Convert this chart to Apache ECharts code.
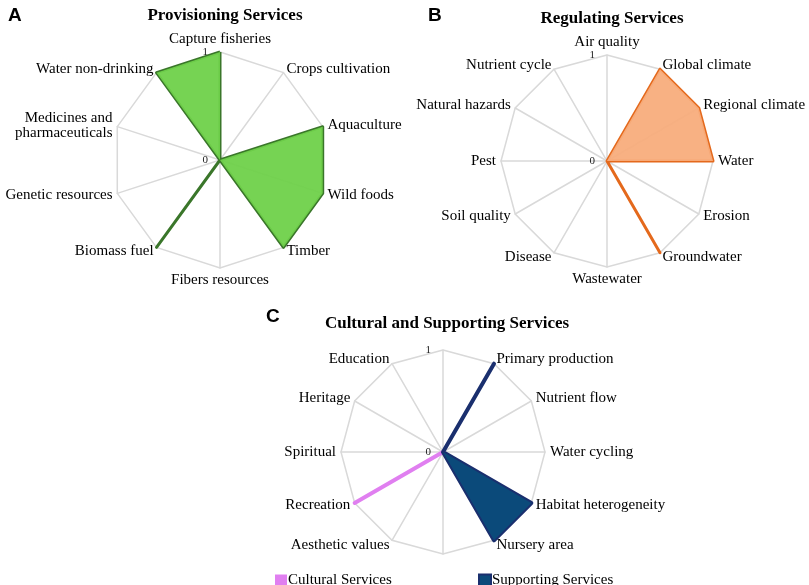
<!DOCTYPE html>
<html>
<head>
<meta charset="utf-8">
<script src="https://cdn.jsdelivr.net/npm/echarts@6/dist/echarts.min.js"></script>
<style>html,body{margin:0;padding:0;background:#fff;}#c{width:809px;height:585px;}</style>
</head>
<body>
<div id="c"></div>
<script>
const provCategories = ['Capture fisheries','Crops cultivation','Aquaculture','Wild foods','Timber','Fibers resources','Biomass fuel','Genetic resources','Medicines and\npharmaceuticals','Water non-drinking'];
const provValues = [1,0,1,1,1,0,1,0,0,1];

const regCategories = ['Air quality','Global climate','Regional climate','Water','Erosion','Groundwater','Wastewater','Disease','Soil quality','Pest','Natural hazards','Nutrient cycle'];
const regValues = [0,1,1,1,0,1,0,0,0,0,0,0];

const cultCategories = ['','Primary production','Nutrient flow','Water cycling','Habitat heterogeneity','Nursery area','','Aesthetic values','Recreation','Spiritual','Heritage','Education'];
const culturalValues = [0,0,0,0,0,0,0,0,1,0,0,0];
const supportingValues = [0,1,0,0,1,1,0,0,0,0,0,0];

const tickMin = 0, tickMax = 1;
const serif = 'Liberation Serif, Times New Roman, serif';
const gridColor = '#d9d9d9';

// ECharts radar runs counter-clockwise; reorder so the categories go clockwise
function cw(arr){ return [arr[0]].concat(arr.slice(1).reverse()); }

function indicators(cats){
  return cw(cats).map((n,i)=>{
    const o = {name:n, min:tickMin, max:tickMax};
    if(i===0) o.axisLabel = {show:true, fontSize:11, color:'#222', fontFamily:serif, margin:12};
    return o;
  });
}
function radarBase(cats, center, radius){
  return {
    center: center, radius: radius, startAngle: 90, shape: 'polygon', splitNumber: 1,
    indicator: indicators(cats),
    nameGap: 5,
    axisName: {color:'#000', fontFamily:serif, fontSize:15},
    axisLine: {lineStyle:{color:gridColor, width:1.5}},
    splitLine: {lineStyle:{color:gridColor, width:1.5}},
    splitArea: {show:false},
    axisTick: {show:false},
    axisLabel: {show:false}
  };
}

const chart = echarts.init(document.getElementById('c'));
chart.setOption({
  animation:false,
  title:[
    {text:'A', left:3, top:1, textStyle:{fontFamily:'Liberation Sans, Arial', fontSize:19, fontWeight:'bold', color:'#000'}},
    {text:'Provisioning Services', left:220, textAlign:'center', top:2, textStyle:{fontFamily:serif, fontSize:17, fontWeight:'bold', color:'#000'}},
    {text:'B', left:423, top:1, textStyle:{fontFamily:'Liberation Sans, Arial', fontSize:19, fontWeight:'bold', color:'#000'}},
    {text:'Regulating Services', left:607, textAlign:'center', top:5, textStyle:{fontFamily:serif, fontSize:17, fontWeight:'bold', color:'#000'}},
    {text:'C', left:261, top:302, textStyle:{fontFamily:'Liberation Sans, Arial', fontSize:19, fontWeight:'bold', color:'#000'}},
    {text:'Cultural and Supporting Services', left:442, textAlign:'center', top:310, textStyle:{fontFamily:serif, fontSize:17, fontWeight:'bold', color:'#000'}}
  ],
  legend:[
    {data:['Cultural Services'], left:270, top:568, icon:'rect', itemWidth:12, itemHeight:12,
     textStyle:{fontFamily:serif, fontSize:15, color:'#000', padding:[0,0,0,-4]}},
    {data:['Supporting Services'], left:473, top:568, icon:'rect', itemWidth:12, itemHeight:12,
     textStyle:{fontFamily:serif, fontSize:15, color:'#000', padding:[0,0,0,-4]}}
  ],
  radar:[
    radarBase(provCategories, [220,160], 108),
    radarBase(regCategories, [607,161], 106),
    radarBase(cultCategories, [443,452], 102)
  ],
  series:[
    {type:'radar', radarIndex:0, symbol:'none', name:'Provisioning',
     lineStyle:{color:'#3a762a', width:3},
     areaStyle:{color:'#6fd14a', opacity:0.95},
     data:[{value:cw(provValues)}]},
    {type:'radar', radarIndex:1, symbol:'none', name:'Regulating',
     lineStyle:{color:'#e4691c', width:3},
     areaStyle:{color:'#f8ad7c', opacity:0.95},
     data:[{value:cw(regValues)}]},
    {type:'radar', radarIndex:2, symbol:'none', name:'Cultural Services',
     itemStyle:{color:'#e07ff0'},
     lineStyle:{color:'#e07ff0', width:4},
     data:[{value:cw(culturalValues), name:'Cultural Services'}]},
    {type:'radar', radarIndex:2, symbol:'none', name:'Supporting Services',
     itemStyle:{color:'#0b4a7a', borderColor:'#1a2f6e', borderWidth:1.5},
     lineStyle:{color:'#1a2f6e', width:4},
     areaStyle:{color:'#0b4a7a', opacity:1},
     data:[{value:cw(supportingValues), name:'Supporting Services'}]}
  ]
});
</script>
</body>
</html>
